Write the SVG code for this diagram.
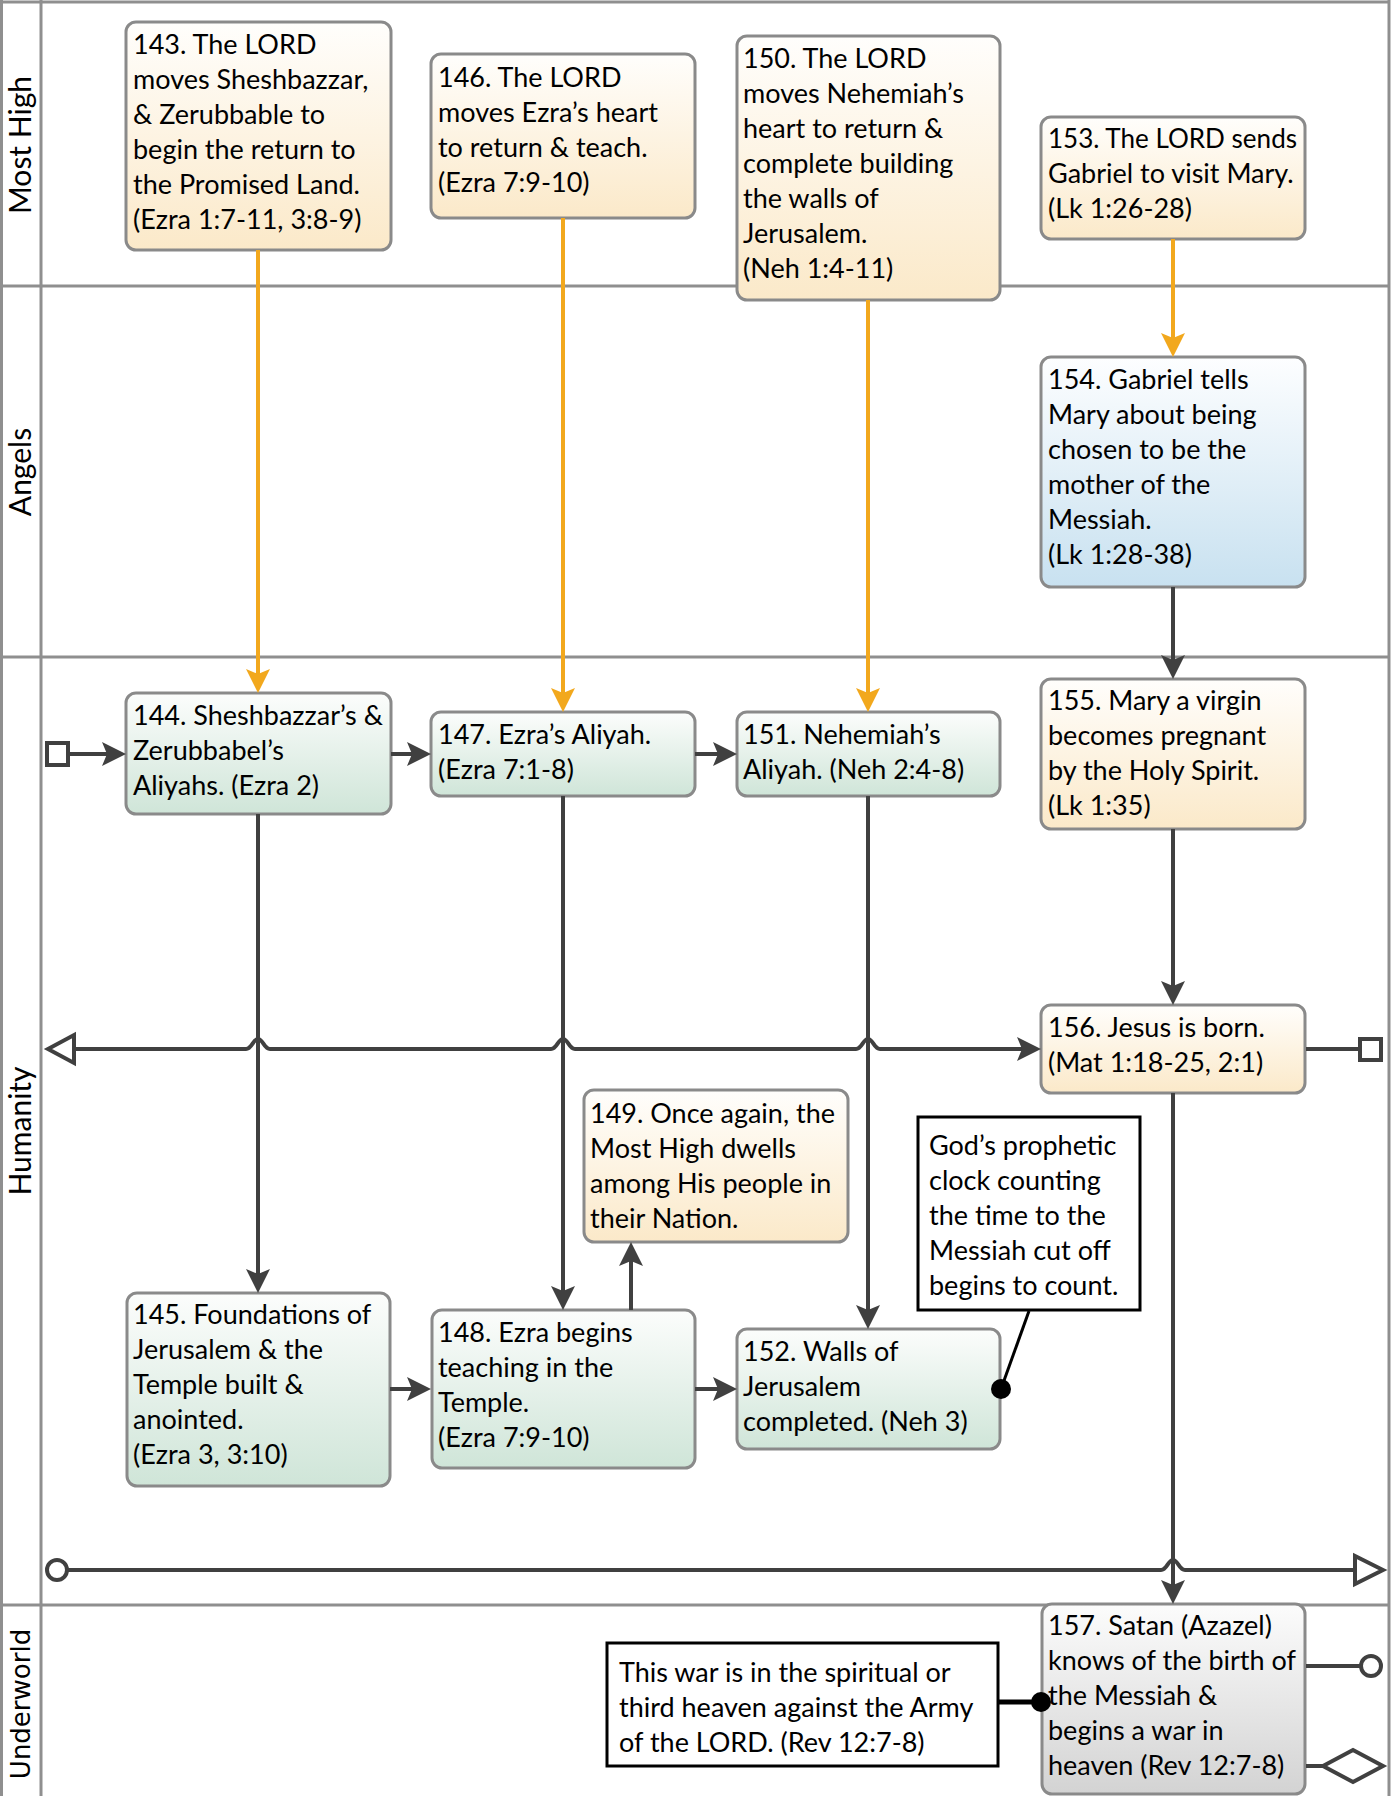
<svg xmlns="http://www.w3.org/2000/svg" width="1393" height="1796" viewBox="0 0 1393 1796">
<defs>
<linearGradient id="gO" x1="0" y1="0" x2="0" y2="1"><stop offset="0" stop-color="#fffefc"/><stop offset="1" stop-color="#fbe9c9"/></linearGradient>
<linearGradient id="gG" x1="0" y1="0" x2="0" y2="1"><stop offset="0" stop-color="#fcfdfc"/><stop offset="1" stop-color="#cfe5d8"/></linearGradient>
<linearGradient id="gB" x1="0" y1="0" x2="0" y2="1"><stop offset="0" stop-color="#fdfeff"/><stop offset="1" stop-color="#c8e1f0"/></linearGradient>
<linearGradient id="gS" x1="0" y1="0" x2="0" y2="1"><stop offset="0" stop-color="#fcfcfc"/><stop offset="1" stop-color="#d3d3d3"/></linearGradient>
<marker id="aD" markerUnits="userSpaceOnUse" markerWidth="26" markerHeight="26" viewBox="0 0 26 26" refX="13" refY="13" orient="auto"><path d="M1,1 L25,13 L1,25 L6,13 Z" fill="#404040"/></marker>
<marker id="aO" markerUnits="userSpaceOnUse" markerWidth="26" markerHeight="26" viewBox="0 0 26 26" refX="13" refY="13" orient="auto"><path d="M1,1 L25,13 L1,25 L6,13 Z" fill="#f2a81d"/></marker>
</defs>
<style>
.lane{stroke:#8f8f8f;stroke-width:3;fill:none}
.lbl{font-family:Lato,"Liberation Sans",sans-serif;font-size:30px;fill:#000;text-anchor:middle}
.n{stroke:#8a8a8a;stroke-width:3}
.t{font-family:Lato,"Liberation Sans",sans-serif;font-size:27px;fill:#000}
.c{fill:#fff;stroke:#000;stroke-width:3}
.d{stroke:#404040;stroke-width:4;fill:none}
.o{stroke:#f2a81d;stroke-width:4;fill:none}
.ev{stroke:#404040;stroke-width:4;fill:#fff}
</style>
<g id="lanes">
<path class="lane" d="M0,2 H1389 M1.5,0 V1796 M1389,0 V1796 M41,0 V1796 M0,286 H1389 M0,657 H1389 M0,1605 H1389"/>
<text class="lbl" transform="translate(31,145) rotate(-90)">Most High</text>
<text class="lbl" transform="translate(31,472) rotate(-90)">Angels</text>
<text class="lbl" transform="translate(31,1131) rotate(-90)">Humanity</text>
<text class="lbl" style="font-family:'DejaVu Sans',sans-serif;font-size:26px" transform="translate(30,1704) rotate(-90)">Underworld</text>
</g>
<g id="n143"><rect class="n" x="126" y="22" width="265" height="228" rx="10" fill="url(#gO)"/>
<text class="t" x="133" y="54">143. The LORD</text><text class="t" x="133" y="89">moves Sheshbazzar,</text><text class="t" x="133" y="124">&amp; Zerubbable to</text><text class="t" x="133" y="159">begin the return to</text><text class="t" x="133" y="194">the Promised Land.</text><text class="t" x="133" y="229">(Ezra 1:7-11, 3:8-9)</text></g>
<g id="n146"><rect class="n" x="431" y="54" width="264" height="164" rx="10" fill="url(#gO)"/>
<text class="t" x="438" y="87">146. The LORD</text><text class="t" x="438" y="122">moves Ezra’s heart</text><text class="t" x="438" y="157">to return &amp; teach.</text><text class="t" x="438" y="192">(Ezra 7:9-10)</text></g>
<g id="n150"><rect class="n" x="737" y="36" width="263" height="264" rx="10" fill="url(#gO)"/>
<text class="t" x="743" y="68">150. The LORD</text><text class="t" x="743" y="103">moves Nehemiah’s</text><text class="t" x="743" y="138">heart to return &amp;</text><text class="t" x="743" y="173">complete building</text><text class="t" x="743" y="208">the walls of</text><text class="t" x="743" y="243">Jerusalem.</text><text class="t" x="743" y="278">(Neh 1:4-11)</text></g>
<g id="n153"><rect class="n" x="1041" y="117" width="264" height="122" rx="10" fill="url(#gO)"/>
<text class="t" x="1048" y="148" textLength="249" lengthAdjust="spacingAndGlyphs">153. The LORD sends</text><text class="t" x="1048" y="183">Gabriel to visit Mary.</text><text class="t" x="1048" y="218">(Lk 1:26-28)</text></g>
<g id="n154"><rect class="n" x="1041" y="357" width="264" height="230" rx="10" fill="url(#gB)"/>
<text class="t" x="1048" y="389">154. Gabriel tells</text><text class="t" x="1048" y="424">Mary about being</text><text class="t" x="1048" y="459">chosen to be the</text><text class="t" x="1048" y="494">mother of the</text><text class="t" x="1048" y="529">Messiah.</text><text class="t" x="1048" y="564">(Lk 1:28-38)</text></g>
<g id="n155"><rect class="n" x="1041" y="679" width="264" height="150" rx="10" fill="url(#gO)"/>
<text class="t" x="1048" y="710">155. Mary a virgin</text><text class="t" x="1048" y="745">becomes pregnant</text><text class="t" x="1048" y="780">by the Holy Spirit.</text><text class="t" x="1048" y="815">(Lk 1:35)</text></g>
<g id="n156"><rect class="n" x="1041" y="1005" width="264" height="88" rx="10" fill="url(#gO)"/>
<text class="t" x="1048" y="1037">156. Jesus is born.</text><text class="t" x="1048" y="1072">(Mat 1:18-25, 2:1)</text></g>
<g id="n144"><rect class="n" x="126" y="693" width="265" height="121" rx="10" fill="url(#gG)"/>
<text class="t" x="133" y="725">144. Sheshbazzar’s &amp;</text><text class="t" x="133" y="760">Zerubbabel’s</text><text class="t" x="133" y="795">Aliyahs. (Ezra 2)</text></g>
<g id="n147"><rect class="n" x="431" y="712" width="264" height="84" rx="10" fill="url(#gG)"/>
<text class="t" x="438" y="744">147. Ezra’s Aliyah.</text><text class="t" x="438" y="779">(Ezra 7:1-8)</text></g>
<g id="n151"><rect class="n" x="737" y="712" width="263" height="84" rx="10" fill="url(#gG)"/>
<text class="t" x="743" y="744">151. Nehemiah’s</text><text class="t" x="743" y="779">Aliyah. (Neh 2:4-8)</text></g>
<g id="n149"><rect class="n" x="584" y="1090" width="264" height="152" rx="10" fill="url(#gO)"/>
<text class="t" x="590" y="1123">149. Once again, the</text><text class="t" x="590" y="1158">Most High dwells</text><text class="t" x="590" y="1193">among His people in</text><text class="t" x="590" y="1228">their Nation.</text></g>
<g id="note1"><rect class="c" x="918" y="1117" width="222" height="193"/>
<text class="t" x="929" y="1155">God’s prophetic</text><text class="t" x="929" y="1190">clock counting</text><text class="t" x="929" y="1225">the time to the</text><text class="t" x="929" y="1260">Messiah cut off</text><text class="t" x="929" y="1295">begins to count.</text></g>
<g id="n145"><rect class="n" x="127" y="1293" width="263" height="193" rx="10" fill="url(#gG)"/>
<text class="t" x="133" y="1324">145. Foundations of</text><text class="t" x="133" y="1359">Jerusalem &amp; the</text><text class="t" x="133" y="1394">Temple built &amp;</text><text class="t" x="133" y="1429">anointed.</text><text class="t" x="133" y="1464">(Ezra 3, 3:10)</text></g>
<g id="n148"><rect class="n" x="432" y="1310" width="263" height="158" rx="10" fill="url(#gG)"/>
<text class="t" x="438" y="1342">148. Ezra begins</text><text class="t" x="438" y="1377">teaching in the</text><text class="t" x="438" y="1412">Temple.</text><text class="t" x="438" y="1447">(Ezra 7:9-10)</text></g>
<g id="n152"><rect class="n" x="737" y="1329" width="263" height="120" rx="10" fill="url(#gG)"/>
<text class="t" x="743" y="1361">152. Walls of</text><text class="t" x="743" y="1396">Jerusalem</text><text class="t" x="743" y="1431">completed. (Neh 3)</text></g>
<g id="n157"><rect class="n" x="1042" y="1604" width="263" height="190" rx="10" fill="url(#gS)"/>
<text class="t" x="1048" y="1635">157. Satan (Azazel)</text><text class="t" x="1048" y="1670">knows of the birth of</text><text class="t" x="1048" y="1705">the Messiah &amp;</text><text class="t" x="1048" y="1740">begins a war in</text><text class="t" x="1048" y="1775">heaven (Rev 12:7-8)</text></g>
<g id="note2"><rect class="c" x="607" y="1643" width="391" height="123"/>
<text class="t" x="619" y="1682">This war is in the spiritual or</text><text class="t" x="619" y="1717">third heaven against the Army</text><text class="t" x="619" y="1752">of the LORD. (Rev 12:7-8)</text></g>
<g id="connectors">
<path class="o" d="M258,250 V681" marker-end="url(#aO)"/>
<path class="o" d="M563,218 V700" marker-end="url(#aO)"/>
<path class="o" d="M868,300 V700" marker-end="url(#aO)"/>
<path class="o" d="M1173,239 V345" marker-end="url(#aO)"/>
<path class="d" d="M1173,587 V667" marker-end="url(#aD)"/>
<path class="d" d="M1173,829 V993" marker-end="url(#aD)"/>
<path class="d" d="M68,754 H114" marker-end="url(#aD)"/>
<path class="d" d="M391,754 H419" marker-end="url(#aD)"/>
<path class="d" d="M695,754 H725" marker-end="url(#aD)"/>
<path class="d" d="M258,814 V1281" marker-end="url(#aD)"/>
<path class="d" d="M563,796 V1298" marker-end="url(#aD)"/>
<path class="d" d="M868,796 V1317" marker-end="url(#aD)"/>
<path class="d" d="M631,1310 V1254" marker-end="url(#aD)"/>
<path class="d" d="M390,1389 H419" marker-end="url(#aD)"/>
<path class="d" d="M695,1389 H725" marker-end="url(#aD)"/>
<path class="d" d="M1173,1093 V1592" marker-end="url(#aD)"/>
<path class="d" d="M74,1049 H246 C252,1049 253,1039 258,1039 C263,1039 264,1049 270,1049 H551 C557,1049 558,1039 563,1039 C568,1039 569,1049 575,1049 H856 C862,1049 863,1039 868,1039 C873,1039 874,1049 880,1049 H1029" marker-end="url(#aD)"/>
<polygon class="ev" points="48,1049 74,1035 74,1063"/>
<path class="d" d="M1306,1049 H1360"/>
<rect class="ev" x="1360" y="1039" width="21" height="21"/>
<path class="d" d="M67,1570 H1161 C1167,1570 1168,1560 1173,1560 C1178,1560 1179,1570 1185,1570 H1355"/>
<circle class="ev" cx="57" cy="1570" r="10"/>
<polygon class="ev" points="1383,1570 1355,1556 1355,1584"/>
<path class="d" d="M1306,1666 H1361"/>
<circle class="ev" cx="1371" cy="1666" r="10"/>
<path class="d" d="M1306,1766 H1323"/>
<polygon class="ev" points="1323,1766 1353,1750 1383,1766 1353,1782"/>
<rect class="ev" x="47" y="743" width="21" height="22"/>
<path d="M1029,1311 L1001,1389" stroke="#000" stroke-width="3" fill="none"/>
<circle cx="1001" cy="1389" r="10" fill="#000"/>
<path d="M998,1702 H1041" stroke="#000" stroke-width="5" fill="none"/>
<circle cx="1041" cy="1702" r="10" fill="#000"/>
</g>
</svg>
